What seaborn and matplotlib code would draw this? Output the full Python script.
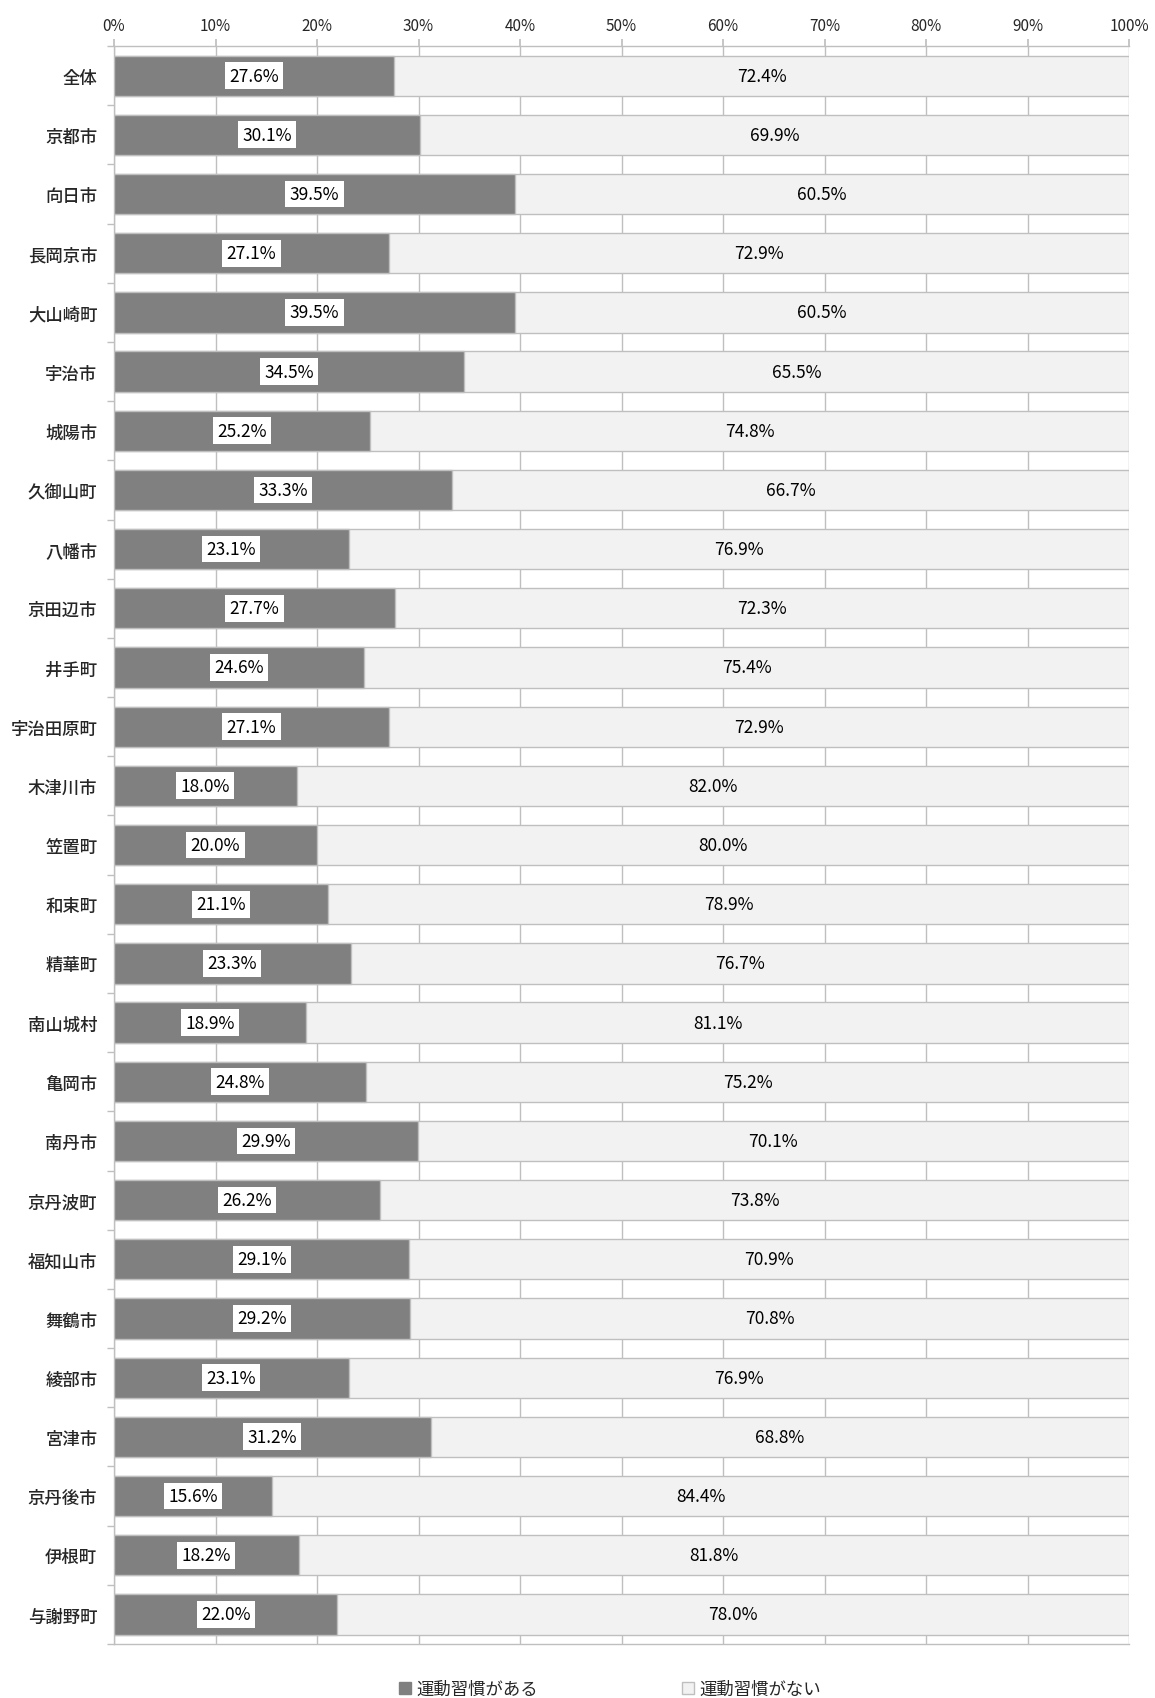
import matplotlib
matplotlib.use("Agg")
import matplotlib.pyplot as plt
import numpy as np
import pandas as pd
import seaborn as sns
from matplotlib.patches import Patch

# data
categories = ["全体", "京都市", "向日市", "長岡京市", "大山崎町", "宇治市", "城陽市",
              "久御山町", "八幡市", "京田辺市", "井手町", "宇治田原町", "木津川市",
              "笠置町", "和束町", "精華町", "南山城村", "亀岡市", "南丹市", "京丹波町",
              "福知山市", "舞鶴市", "綾部市", "宮津市", "京丹後市", "伊根町", "与謝野町"]
has_habit = [27.6, 30.1, 39.5, 27.1, 39.5, 34.5, 25.2, 33.3, 23.1, 27.7, 24.6, 27.1, 18.0,
             20.0, 21.1, 23.3, 18.9, 24.8, 29.9, 26.2, 29.1, 29.2, 23.1, 31.2, 15.6, 18.2, 22.0]
no_habit = [72.4, 69.9, 60.5, 72.9, 60.5, 65.5, 74.8, 66.7, 76.9, 72.3, 75.4, 72.9, 82.0,
            80.0, 78.9, 76.7, 81.1, 75.2, 70.1, 73.8, 70.9, 70.8, 76.9, 68.8, 84.4, 81.8, 78.0]
series_names = ["運動習慣がある", "運動習慣がない"]
x_ticks = [0, 10, 20, 30, 40, 50, 60, 70, 80, 90, 100]

sns.set_theme(style="white")
plt.rcParams["font.family"] = ["Noto Sans CJK JP", "DejaVu Sans"]

dark = "#808080"
light = "#F2F2F2"
edge = "#BFBFBF"

df = pd.DataFrame({"cat": categories, "has": has_habit, "no": no_habit})
df["total"] = df["has"] + df["no"]

fig = plt.figure(figsize=(11.55, 16.99), dpi=100)
ax = fig.add_axes([0.0987, 0.0318, 0.879, 0.9405])

sns.barplot(data=df, x="total", y="cat", orient="h", color=light, saturation=1,
            width=0.68, edgecolor=edge, linewidth=1, ax=ax, zorder=2)
sns.barplot(data=df, x="has", y="cat", orient="h", color=dark, saturation=1,
            width=0.68, edgecolor=edge, linewidth=1, ax=ax, zorder=3)

for i, (h, n) in enumerate(zip(has_habit, no_habit)):
    ax.text(h / 2, i, f"{h:.1f}%", ha="center", va="center", fontsize=12.5,
            color="black", zorder=5,
            bbox=dict(boxstyle="square,pad=0.25", fc="white", ec="none"))
    ax.text(h + n / 2, i, f"{n:.1f}%", ha="center", va="center", fontsize=12.5,
            color="black", zorder=5)

ax.set_xlim(0, 100)
ax.set_ylim(len(categories) - 0.5, -0.5)
ax.set_xticks(x_ticks)
ax.set_xticklabels([f"{t}%" for t in x_ticks], fontsize=11)
ax.xaxis.tick_top()
ax.tick_params(axis="x", top=True, length=5, color=edge, pad=4)
ax.set_yticks(range(len(categories)))
ax.set_yticklabels(categories, fontsize=12.5, fontweight="medium")
ax.set_yticks(np.arange(-0.5, len(categories), 1), minor=True)
ax.tick_params(axis="y", which="major", length=0, pad=12)
ax.tick_params(axis="y", which="minor", left=True, length=5, color=edge)
ax.set_xlabel("")
ax.set_ylabel("")

ax.grid(axis="x", color=edge, linewidth=1, zorder=0)
ax.set_axisbelow(True)
for s in ax.spines.values():
    s.set_color(edge)
    s.set_linewidth(1)
ax.spines["right"].set_visible(False)

handles = [Patch(facecolor=dark, edgecolor=dark), Patch(facecolor=light, edgecolor=edge)]
fig.legend(handles, series_names, loc="center", bbox_to_anchor=(0.528, 1 - 1690 / 1699),
           ncol=2, frameon=False, fontsize=12.5, handlelength=0.7, handleheight=0.7,
           handletextpad=0.3, columnspacing=8.3)

fig.savefig("out.png", dpi=100)
